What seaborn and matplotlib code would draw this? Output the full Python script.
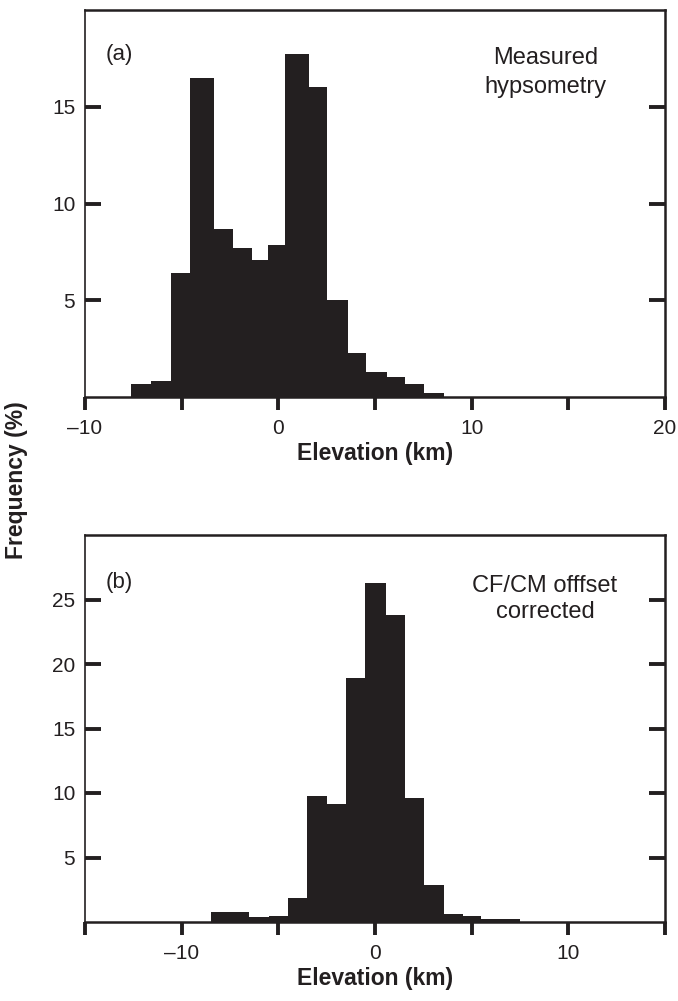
import numpy as np
import pandas as pd
import matplotlib
matplotlib.use("Agg")
import matplotlib.pyplot as plt
import seaborn as sns

# ---------------- data ----------------
# Panel (a): measured hypsometry
edges_a = [-7.6, -6.6, -5.57, -4.59, -3.35, -2.37, -1.35, -0.55, 0.36,
           1.6, 2.54, 3.58, 4.56, 5.6, 6.53, 7.56, 8.55]
freq_a = [0.69, 0.81, 6.4, 16.5, 8.7, 7.7, 7.07, 7.88, 17.73,
          16.02, 5.0, 2.26, 1.28, 1.02, 0.66, 0.19]

# Panel (b): CF/CM offset corrected
edges_b = [-8.5, -7.5, -6.5, -5.5, -4.5, -3.5, -2.5, -1.5, -0.5,
           0.55, 1.55, 2.55, 3.55, 4.55, 5.5, 6.5, 7.5]
freq_b = [0.74, 0.74, 0.38, 0.5, 1.85, 9.8, 9.15, 18.9, 26.3,
          23.8, 9.6, 2.9, 0.64, 0.43, 0.25, 0.25]

xticks_a = [-10, -5, 0, 5, 10, 15, 20]
xticklabels_a = ["\u201310", "", "0", "", "10", "", "20"]
yticks_a = [5, 10, 15]

xticks_b = [-15, -10, -5, 0, 5, 10, 15]
xticklabels_b = ["", "\u201310", "", "0", "", "10", ""]
yticks_b = [5, 10, 15, 20, 25]

notes_a = ["Measured", "hypsometry"]
notes_b = ["CF/CM offfset", "corrected"]

# ---------------- style ----------------
sns.set_theme(style="white")
plt.rcParams["font.family"] = ["Liberation Sans", "DejaVu Sans"]
INK = "#231f20"
FS_TICK = 15
FS_LAB = 16.5
FS_NOTE = 17
FS_TAG = 16

W, H = 678, 1001
fig = plt.figure(figsize=(W / 100, H / 100), dpi=100)


def fx(px):
    return px / W


def fy(py):
    return 1 - py / H


def px_axes(left, top, right, bottom):
    return fig.add_axes([fx(left), fy(bottom), (right - left) / W, (bottom - top) / H])


ax_a = px_axes(85, 10, 665, 397)
ax_b = px_axes(85, 535, 665, 922)


def draw(ax, edges, freq, xlim, ylim, xticks, xlabels, yticks):
    e = np.asarray(edges, dtype=float)
    df = pd.DataFrame({"mid": (e[:-1] + e[1:]) / 2, "freq": freq})
    sns.histplot(data=df, x="mid", weights="freq", bins=list(edges), ax=ax,
                 color=INK, alpha=1, edgecolor="none", linewidth=0, stat="count")
    ax.set_xlim(*xlim)
    ax.set_ylim(*ylim)
    ax.set_xticks(xticks)
    ax.set_xticklabels(xlabels)
    ax.set_yticks(yticks)
    ax.set_yticklabels([str(v) for v in yticks])
    ax.tick_params(axis="x", direction="out", length=9, width=2.8, color=INK,
                   labelsize=FS_TICK, labelcolor=INK, pad=6.5, bottom=True)
    ax.tick_params(axis="y", direction="in", length=11.5, width=2.8, color=INK,
                   labelsize=FS_TICK, labelcolor=INK, pad=7, left=True, right=True)
    for s, lw in (("left", 1.2), ("right", 1.8), ("top", 1.8), ("bottom", 1.8)):
        ax.spines[s].set_visible(True)
        ax.spines[s].set_color(INK)
        ax.spines[s].set_linewidth(lw)
    ax.set_ylabel("")
    ax.set_xlabel("Elevation (km)", fontsize=FS_LAB, fontweight="bold", color=INK,
                  labelpad=3.5)
    ax.grid(False)


draw(ax_a, edges_a, freq_a, (-10, 20), (0, 20), xticks_a, xticklabels_a, yticks_a)
draw(ax_b, edges_b, freq_b, (-15, 15), (0, 30), xticks_b, xticklabels_b, yticks_b)

# panel tags
fig.text(fx(106), fy(60), "(a)", fontsize=FS_TAG, color=INK, ha="left", va="baseline")
fig.text(fx(106), fy(588), "(b)", fontsize=FS_TAG, color=INK, ha="left", va="baseline")

# annotations (two lines each, centred)
for txt, yb in zip(notes_a, (64, 92.5)):
    fig.text(fx(545.5), fy(yb), txt, fontsize=FS_NOTE, color=INK, ha="center", va="baseline")
for txt, yb in zip(notes_b, (591.5, 618)):
    fig.text(fx(545), fy(yb), txt, fontsize=FS_NOTE, color=INK, ha="center", va="baseline")

fig.text(fx(17), fy(480), "Frequency (%)", rotation=90, fontsize=FS_LAB,
         fontweight="bold", color=INK, ha="center", va="center")

fig.savefig("out.png", dpi=100, facecolor="white")
